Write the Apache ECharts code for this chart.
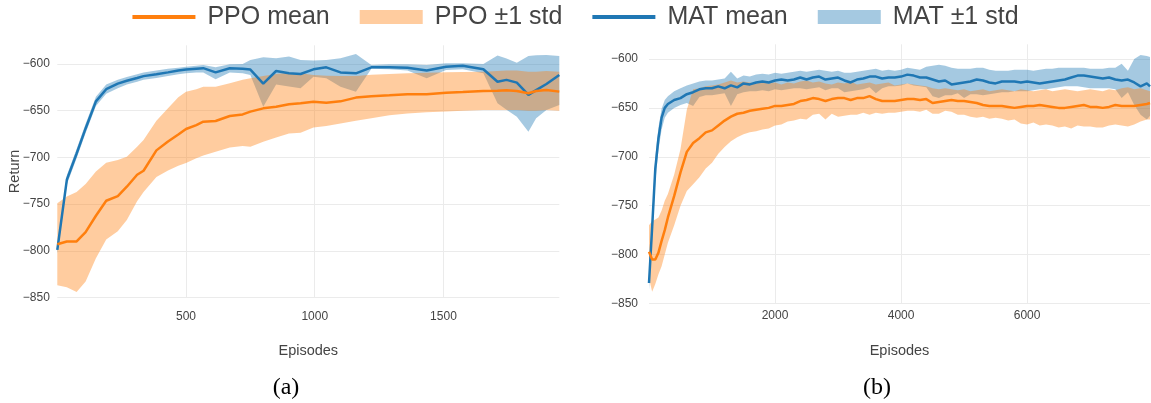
<!DOCTYPE html>
<html><head><meta charset="utf-8">
<script src="https://cdn.jsdelivr.net/npm/echarts@6/dist/echarts.min.js"></script>
<style>html,body{margin:0;padding:0;background:#fff}#c{width:1151px;height:403px}</style>
</head><body><div id="c"></div>
<script>
// ---------- Panel (a) ----------
const epsA = [0,37,75,110,150,190,235,270,310,335,385,430,470,500,540,567,615,670,720,750,800,850,900,945,995,1045,1100,1160,1220,1290,1360,1435,1510,1575,1655,1710,1745,1785,1830,1860,1900,1950];
const matMeanA = [-799,-724,-696,-669,-640,-627,-621,-618,-615,-613,-611,-609,-607,-606,-605,-604.5,-609,-604.5,-605,-606,-621,-607.5,-610,-610.7,-605.7,-603.6,-609,-610,-603.6,-603.6,-604,-607,-603,-602,-605.7,-619,-617,-620,-633,-628,-621.4,-611.8];
const matUpperA = [-795,-719,-691,-664,-635,-622,-617,-614,-611,-609,-607,-605,-604,-603,-602,-601,-603.6,-600.4,-600,-595.7,-592.9,-593.9,-592,-595.7,-596.4,-595.7,-593.9,-589.3,-601.1,-600.4,-600.4,-601,-599.3,-599.3,-600,-591,-594,-598.6,-591.4,-590.7,-590.4,-591.4];
const matLowerA = [-803,-729,-701,-674,-645,-632,-626,-622,-619,-617,-615,-613,-611,-610,-609,-609,-616.4,-609,-610,-611.8,-645.7,-622,-624,-626,-613.6,-615.4,-624.3,-629.6,-605,-605.7,-607,-615.4,-606.4,-605.7,-610,-642,-649,-656.4,-672.5,-658.2,-649.3,-644];
const ppoMeanA = [-793,-790,-790,-780,-762.5,-746.4,-741.4,-731.4,-718.6,-714.3,-692.5,-682.9,-675.4,-669.6,-665.4,-661.8,-661,-655.7,-654,-651,-647.5,-645.7,-643.2,-642,-640.4,-641.4,-640,-636,-634.6,-633.6,-632.5,-632.5,-630.7,-630,-628.9,-628.6,-628.2,-629,-631.4,-629,-627.9,-629.6];
const ppoUpperA = [-749,-742,-737,-728.6,-715,-705.7,-702.9,-699.3,-688.6,-681.4,-660.7,-647.5,-635.7,-629.6,-627.1,-624.3,-624.3,-620.7,-617,-615.4,-612.9,-610.7,-609.3,-610,-611.8,-612.5,-612.9,-612.9,-611.4,-610.7,-610,-609.3,-608.9,-608.6,-608.2,-607.5,-607,-607,-608.2,-608.2,-607.5,-608.2];
const ppoLowerA = [-837,-839,-844,-833,-808,-788,-779,-767,-747,-737,-721,-714,-709,-706,-701,-698,-694,-689.3,-687.9,-688.6,-683.2,-678.6,-674.3,-673.6,-667.9,-666.4,-663.6,-660.7,-658.2,-655,-652.9,-651.8,-651,-650,-649.3,-649.3,-649.3,-649.3,-650,-650,-649.3,-650];

// ---------- Panel (b) ----------
const epsB = [0,50,100,150,200,250].concat(Array.from({length:77},(_,i)=>300+i*100)).concat([7950]);
const matMeanB = [-829,-772,-712,-681,-660,-650,-646,-642,-640,-636,
 -634,-631,-630,-630,-628,-630,-627,-629,-625,-626,
 -624,-623,-624,-622,-621,-622,-621,-619,-621,-619,
 -618,-621,-620,-619,-622,-624,-621,-620,-618,-618,
 -620,-619,-619,-618,-616,-617,-619,-619,-621,-623,
 -622,-626,-625,-624,-623,-621,-622,-624,-625,-623,
 -623,-623,-624,-623,-624,-625,-624,-623,-622,-621,
 -619,-617,-617,-618,-619,-620,-619,-621,-622,-621,
 -624,-628,-625,-628];
const matUpperB = [-822,-762,-700,-670,-651,-642,-638,-633,-630,-627,
 -625,-623,-622,-622,-621,-620,-613,-620,-617,-618,
 -616,-615,-616,-614,-615,-614,-613,-612,-613,-612,
 -611,-612,-613,-612,-614,-614,-613,-612,-611,-610,
 -612,-611,-612,-611,-609,-610,-611,-608,-607,-606,
 -607,-609,-610,-610,-610,-609,-609,-611,-612,-612,
 -612,-611,-611,-611,-612,-611,-610,-610,-609,-609,
 -609,-609,-609,-610,-610,-610,-609,-609,-605,-612,
 -600,-596,-597,-598];
const matLowerB = [-836,-786,-726,-693,-672,-660,-655,-650,-647,-645,
 -648,-639,-637,-637,-636,-635,-648,-636,-634,-633,
 -633,-632,-633,-631,-632,-631,-630,-630,-631,-630,
 -629,-632,-630,-630,-634,-633,-632,-631,-629,-635,
 -630,-628,-628,-627,-625,-627,-628,-629,-638,-640,
 -637,-637,-635,-640,-636,-636,-637,-636,-635,-634,
 -634,-633,-633,-633,-632,-631,-631,-630,-629,-628,
 -628,-628,-629,-630,-630,-630,-630,-631,-640,-634,
 -647,-657,-662,-658];
const ppoMeanB = [-797,-805,-805,-798,-786,-775,-762,-740,-716,-695,
 -686,-681,-675,-673,-668,-663,-659,-656,-655,-653,
 -652,-651,-650,-648,-648,-647,-646,-643,-642,-640,
 -641,-643,-641,-640,-640,-642,-640,-640,-638,-641,
 -643,-643,-643,-642,-641,-641,-642,-641,-645,-644,
 -643,-642,-643,-643,-644,-645,-647,-648,-648,-648,
 -649,-650,-649,-648,-648,-647,-648,-649,-650,-650,
 -649,-648,-647,-649,-649,-650,-649,-647,-648,-648,
 -648,-647,-646,-645];
const ppoUpperB = [-770,-766,-764,-762,-755,-745,-738,-718,-692,-652,
 -631,-630,-628,-627,-626,-624,-622,-624,-623,-624,
 -625,-624,-625,-624,-626,-624,-625,-623,-622,-624,
 -623,-625,-626,-624,-625,-623,-626,-625,-624,-626,
 -625,-624,-627,-626,-625,-626,-627,-628,-630,-631,
 -630,-631,-632,-631,-633,-632,-631,-633,-632,-631,
 -632,-633,-631,-632,-633,-632,-631,-633,-632,-631,
 -632,-633,-632,-631,-632,-633,-631,-632,-630,-629,
 -631,-630,-632,-633];
const ppoLowerB = [-824,-838,-830,-820,-812,-800,-788,-770,-750,-735,
 -728,-721,-712,-706,-697,-690,-684,-680,-677,-675,
 -674,-672,-671,-668,-667,-664,-663,-661,-662,-657,
 -656,-662,-656,-659,-658,-657,-657,-655,-657,-655,
 -656,-655,-655,-654,-653,-653,-654,-652,-656,-656,
 -653,-654,-657,-657,-659,-660,-659,-661,-660,-661,
 -663,-662,-666,-667,-665,-668,-667,-668,-670,-669,
 -671,-668,-669,-669,-670,-670,-668,-667,-668,-669,
 -667,-664,-662,-662];

const xTicksA = {min:0, max:1950, interval:500};
const xTicksB = {min:0, max:7950, interval:2000};
const yTicksA = {min:-850, max:-580, interval:50};
const yTicksB = {min:-850, max:-585, interval:50};

// ---------- styling ----------
const FONT = "'Liberation Sans', Arial, Helvetica, sans-serif";
const ORANGE = '#ff7f0e', BLUE = '#1f77b4';
const ORANGE_BAND = 'rgba(255,127,14,0.4)', BLUE_BAND = 'rgba(31,119,180,0.4)';
const GRID = '#ebebeb', NONE = 'rgba(0,0,0,0)';
const LABEL = '#444';

function pairs(xs, ys){ return xs.map((x,i)=>[x, ys[i]]); }
function minus(v){ return v < 0 ? '\u2212' + Math.abs(v) : String(v); }

// band drawn as one polygon through the axes' own coordinate system
function band(name, idx, eps, lo, hi, color){
  return {
    type:'custom', name:name, xAxisIndex:idx, yAxisIndex:idx, silent:true,
    itemStyle:{color:color},
    data:[[eps[0], lo[0]]],
    renderItem:function(params, api){
      const pts = [];
      for (let i = 0; i < eps.length; i++) pts.push(api.coord([eps[i], hi[i]]));
      for (let i = eps.length - 1; i >= 0; i--) pts.push(api.coord([eps[i], lo[i]]));
      return {type:'polygon', shape:{points:pts}, style:{fill:color, stroke:null}};
    }
  };
}
function meanLine(name, idx, eps, vals, color){
  return {type:'line', name:name, xAxisIndex:idx, yAxisIndex:idx, data:pairs(eps, vals),
    symbol:'none', silent:true, lineStyle:{color:color, width:2.5}, itemStyle:{color:color}};
}
function xAxis(idx, t, gap, margin){
  return {type:'value', gridIndex:idx, min:t.min, max:t.max, interval:t.interval,
    name:'Episodes', nameLocation:'middle', nameGap:gap, nameMoveOverlap:false,
    nameTextStyle:{fontFamily:FONT, fontSize:14.5, color:LABEL},
    axisLine:{show:false}, axisTick:{show:false},
    axisLabel:{fontFamily:FONT, fontSize:12, color:LABEL, margin:margin, showMinLabel:false, showMaxLabel:false,
      formatter:function(v){ return String(v); }},
    splitLine:{show:true, lineStyle:{color:[NONE, GRID, GRID, GRID, NONE], width:1}}};
}
function yAxis(idx, t, margin, name){
  const a = {type:'value', gridIndex:idx, min:t.min, max:t.max, interval:t.interval,
    axisLine:{show:false}, axisTick:{show:false},
    axisLabel:{fontFamily:FONT, fontSize:12, color:LABEL, margin:margin, showMaxLabel:false, formatter:minus},
    splitLine:{show:true, lineStyle:{color:[GRID, GRID, GRID, GRID, GRID, GRID, NONE], width:1}}};
  if (name){
    a.name = name; a.nameLocation = 'middle'; a.nameGap = 35; a.nameMoveOverlap = false;
    a.nameTextStyle = {fontFamily:FONT, fontSize:14.5, color:LABEL};
  }
  return a;
}

const series = [
  band('MAT \u00b11 std', 0, epsA, matLowerA, matUpperA, BLUE_BAND),
  meanLine('MAT mean', 0, epsA, matMeanA, BLUE),
  band('PPO \u00b11 std', 0, epsA, ppoLowerA, ppoUpperA, ORANGE_BAND),
  meanLine('PPO mean', 0, epsA, ppoMeanA, ORANGE),
  band('MAT \u00b11 std', 1, epsB, matLowerB, matUpperB, BLUE_BAND),
  meanLine('MAT mean', 1, epsB, matMeanB, BLUE),
  band('PPO \u00b11 std', 1, epsB, ppoLowerB, ppoUpperB, ORANGE_BAND),
  meanLine('PPO mean', 1, epsB, ppoMeanB, ORANGE)
];

const LINE_ICON = 'path://M0,0H63V4H0Z';
const option = {
  animation:false,
  backgroundColor:'#fff',
  legend:{
    top:4.5, left:'center', padding:0, itemWidth:63, itemHeight:14, itemGap:30,
    selectedMode:false,
    textStyle:{fontFamily:FONT, fontSize:25, color:LABEL, padding:[0,0,0,7]},
    data:[
      {name:'PPO mean', icon:LINE_ICON, itemStyle:{color:ORANGE}},
      {name:'PPO \u00b11 std', icon:'rect', itemStyle:{color:ORANGE_BAND}},
      {name:'MAT mean', icon:LINE_ICON, itemStyle:{color:BLUE}},
      {name:'MAT \u00b11 std', icon:'rect', itemStyle:{color:BLUE_BAND}}
    ]
  },
  grid:[
    {left:57.3, top:45.3, width:502, height:252.2},
    {left:649, top:44.3, width:501, height:259.2}
  ],
  xAxis:[xAxis(0, xTicksA, 46.25, 13), xAxis(1, xTicksB, 40.25, 6)],
  yAxis:[yAxis(0, yTicksA, 7.5, 'Return'), yAxis(1, yTicksB, 11, null)],
  series:series,
  graphic:[
    {type:'text', x:286, y:388, style:{text:'(a)', font:"24px 'Liberation Serif', 'Times New Roman', serif", fill:'#000', textAlign:'center', textVerticalAlign:'middle'}},
    {type:'text', x:877, y:388, style:{text:'(b)', font:"24px 'Liberation Serif', 'Times New Roman', serif", fill:'#000', textAlign:'center', textVerticalAlign:'middle'}}
  ]
};
const chart = echarts.init(document.getElementById('c'), null, {renderer:'canvas'});
chart.setOption(option);
</script>
</body></html>
